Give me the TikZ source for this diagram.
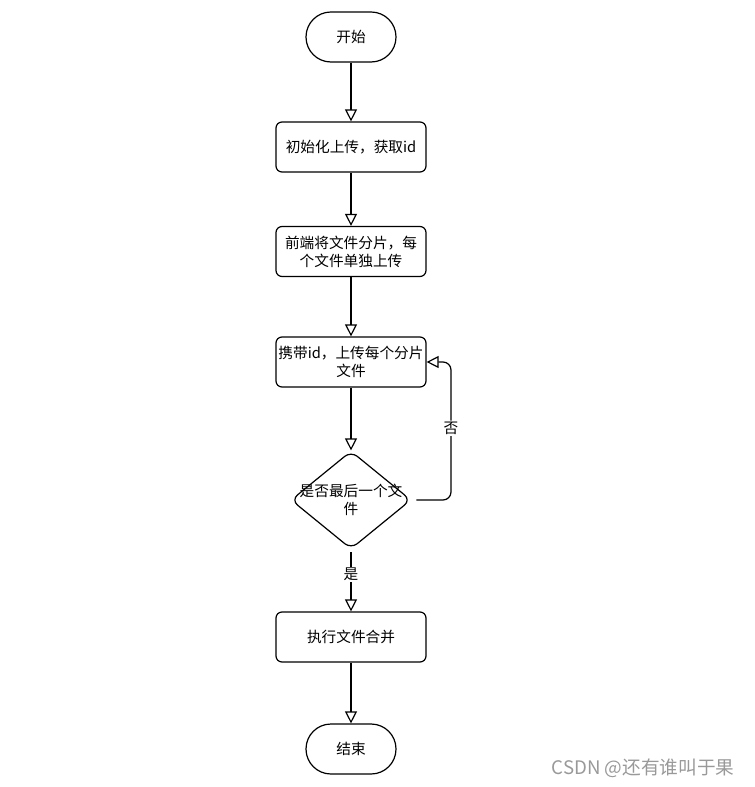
\documentclass[tikz,border=0pt]{standalone}
\usepackage{fontspec}
\setmainfont{Noto Sans CJK SC}
\usetikzlibrary{arrows.meta,shapes.geometric}
\begin{document}
\begin{tikzpicture}[x=0.75pt,y=-0.75pt,
  every node/.style={font=\fontsize{11pt}{13.5pt}\selectfont, text=black},
  term/.style={draw, line width=0.9pt, minimum width=67.5pt, minimum height=37.5pt, rounded corners=18.7pt, inner sep=0pt},
  proc/.style={draw, line width=0.9pt, minimum width=112.5pt, minimum height=37.5pt, rounded corners=4.5pt, align=center, inner sep=1pt},
  dec/.style={draw, line width=0.9pt, shape=diamond, minimum width=90pt, minimum height=73.5pt, rounded corners=6pt, inner sep=0pt},
  arr/.style={draw, line width=0.9pt, -{Triangle[open, length=9pt, width=9pt]}},
  lbl/.style={fill=white, inner sep=1pt}
]
\useasboundingbox (0,0) rectangle (754,787);
\node[term] (start) at (351,37) {开始};
\node[proc] (b1) at (351,147) {初始化上传，获取id};
\node[proc] (b2) at (351,251.5) {前端将文件分片，每\\个文件单独上传};
\node[proc] (b3) at (351,362) {携带id，上传每个分片\\文件};
\node[dec, label={[align=center]center:是否最后一个文\\件}] (d) at (351,500) {};
\node[proc] (b4) at (351,637) {执行文件合并};
\node[term] (end) at (351,749) {结束};
\coordinate (loopc) at (451,362);
\draw[arr] (start) -- (b1);
\draw[arr] (b1) -- (b2);
\draw[arr] (b2) -- (b3);
\draw[arr] (b3) -- (d);
\draw[arr, shorten <=2pt] (d) -- node[lbl, pos=0.4] {是} (b4);
\draw[arr] (b4) -- (end);
\draw[arr, rounded corners=6pt, shorten <=3.5pt] (d.east) -| node[lbl, pos=0.76] {否} (loopc) -- (b3.east);
\node[font=\fontsize{14pt}{16pt}\selectfont, text=black!40] (wm) at (643,768) {CSDN @还有谁叫于果};
\end{tikzpicture}
\end{document}
